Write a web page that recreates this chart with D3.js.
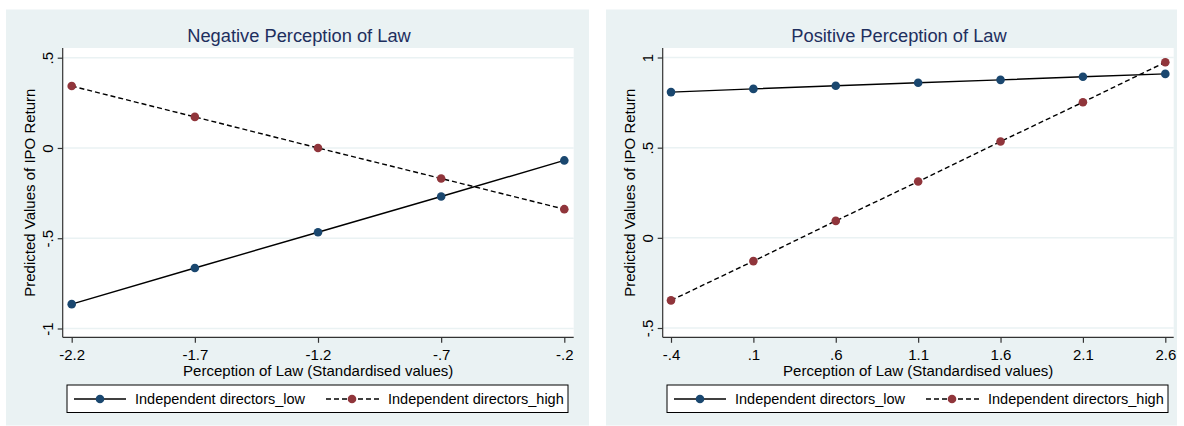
<!DOCTYPE html>
<html><head><meta charset="utf-8">
<script src="https://cdn.jsdelivr.net/npm/d3@7/dist/d3.min.js"></script>
<style>
html,body{margin:0;padding:0;background:#fff;}
svg{display:block;font-family:"Liberation Sans",Arial,sans-serif;}
</style></head>
<body><svg id="c" width="1184" height="426"></svg>
<script>
// ---- data ----
const negTitle = "Negative Perception of Law";
const posTitle = "Positive Perception of Law";
const negX = [-2.2, -1.7, -1.2, -0.7, -0.2];
const negLow = [-0.865, -0.665, -0.467, -0.269, -0.069];
const negHigh = [0.343, 0.172, 0.0, -0.169, -0.339];
const negXTicks = [-2.2, -1.7, -1.2, -0.7, -0.2];
const negXTickLabels = ["-2.2", "-1.7", "-1.2", "-.7", "-.2"];
const negYTicks = [0.5, 0, -0.5, -1];
const negYTickLabels = [".5", "0", "-.5", "-1"];

const posX = [-0.4, 0.1, 0.6, 1.1, 1.6, 2.1, 2.6];
const posLow = [0.808, 0.826, 0.843, 0.860, 0.876, 0.893, 0.909];
const posHigh = [-0.347, -0.129, 0.094, 0.312, 0.534, 0.752, 0.974];
const posXTicks = [-0.4, 0.1, 0.6, 1.1, 1.6, 2.1, 2.6];
const posXTickLabels = ["-.4", ".1", ".6", "1.1", "1.6", "2.1", "2.6"];
const posYTicks = [1, 0.5, 0, -0.5];
const posYTickLabels = ["1", ".5", "0", "-.5"];

const seriesNames = ["Independent directors_low", "Independent directors_high"];
const xTitle = "Perception of Law (Standardised values)";
const yTitle = "Predicted Values of IPO Return";

// ---- style ----
const BG = "#eaf2f3", LOWC = "#1a476f", HIGHC = "#90353b", TITLEC = "#1e2f5e";
const FS = 15, LFS = 14.5;
const svg = d3.select("#c");

function panel(cfg) {
  const g = svg.append("g");
  g.append("rect").attr("x", cfg.bx).attr("y", 9.5).attr("width", cfg.bw).attr("height", 416).attr("fill", BG);
  const pl = cfg.pl, pr = cfg.pl + 511, pt = 48, pb = 337.3;
  g.append("rect").attr("x", pl).attr("y", pt).attr("width", pr - pl).attr("height", pb - pt).attr("fill", "#fff");

  const x = d3.scaleLinear().domain(cfg.xd).range(cfg.xr);
  const y = d3.scaleLinear().domain(cfg.yd).range(cfg.yr);

  // gridlines
  g.selectAll(".grid").data(cfg.yTicks).join("line")
    .attr("x1", pl).attr("x2", pr).attr("y1", d => y(d)).attr("y2", d => y(d))
    .attr("stroke", BG).attr("stroke-width", 1.5);

  // y axis
  const ya = d3.axisLeft(y).tickValues(cfg.yTicks).tickSize(5).tickSizeOuter(0)
    .tickFormat((d, i) => cfg.yLabels[i]);
  const yg = g.append("g").attr("transform", `translate(${pl},0)`).call(ya);
  yg.attr("font-family", null).attr("font-size", null);
  yg.select(".domain").attr("d", `M0,${pt}V${pb}`).attr("stroke", "#333").attr("stroke-width", 1.2);
  yg.selectAll(".tick line").attr("stroke", "#333").attr("stroke-width", 1.2);
  yg.selectAll(".tick text").attr("font-size", FS).attr("fill", "#000")
    .attr("transform", "translate(-10,0) rotate(-90)").attr("x", 0).attr("y", 0).attr("dy", 0)
    .attr("text-anchor", "middle");

  // x axis
  const xa = d3.axisBottom(x).tickValues(cfg.xTicks).tickSize(5.5).tickSizeOuter(0)
    .tickFormat((d, i) => cfg.xLabels[i]);
  const xg = g.append("g").attr("transform", `translate(0,${pb})`).call(xa);
  xg.attr("font-family", null).attr("font-size", null);
  xg.select(".domain").attr("d", `M${pl},0H${pr}`).attr("stroke", "#333").attr("stroke-width", 1.2);
  xg.selectAll(".tick line").attr("stroke", "#333").attr("stroke-width", 1.2);
  xg.selectAll(".tick text").attr("font-size", FS).attr("fill", "#000").attr("y", 23).attr("dy", 0);

  // titles
  g.append("text").attr("x", cfg.tx).attr("y", 42).attr("text-anchor", "middle")
    .attr("font-size", 18.3).attr("fill", TITLEC).text(cfg.title);
  g.append("text").attr("x", (pl + pr) / 2).attr("y", 375.5).attr("text-anchor", "middle")
    .attr("font-size", FS).attr("fill", "#000").text(xTitle);
  g.append("text").attr("transform", `translate(${pl - 27.5},${(pt + pb) / 2}) rotate(-90)`)
    .attr("text-anchor", "middle").attr("font-size", FS).attr("fill", "#000").text(yTitle);

  // lines
  const line = d3.line().x(d => x(d[0])).y(d => y(d[1]));
  const lowPts = cfg.xs.map((v, i) => [v, cfg.low[i]]);
  const highPts = cfg.xs.map((v, i) => [v, cfg.high[i]]);
  g.append("path").attr("d", line(lowPts)).attr("fill", "none").attr("stroke", "#000").attr("stroke-width", 1.4);
  g.append("path").attr("d", line(highPts)).attr("fill", "none").attr("stroke", "#000").attr("stroke-width", 1.4)
    .attr("stroke-dasharray", "5,3");
  g.selectAll(".pl").data(lowPts).join("circle").attr("cx", d => x(d[0])).attr("cy", d => y(d[1]))
    .attr("r", 4.3).attr("fill", LOWC);
  g.selectAll(".ph").data(highPts).join("circle").attr("cx", d => x(d[0])).attr("cy", d => y(d[1]))
    .attr("r", 4.3).attr("fill", HIGHC);

  // legend
  const lx = cfg.bx + 61, ly = 385;
  g.append("rect").attr("x", lx).attr("y", ly).attr("width", 501).attr("height", 27.5)
    .attr("fill", "#fff").attr("stroke", "#000").attr("stroke-width", 1);
  const cy = 399;
  g.append("line").attr("x1", lx + 7).attr("x2", lx + 59).attr("y1", cy).attr("y2", cy)
    .attr("stroke", "#000").attr("stroke-width", 1.4);
  g.append("circle").attr("cx", lx + 33).attr("cy", cy).attr("r", 4.3).attr("fill", LOWC);
  g.append("text").attr("x", lx + 68).attr("y", cy + 5.3).attr("font-size", LFS).text(seriesNames[0]);
  g.append("line").attr("x1", lx + 259).attr("x2", lx + 312).attr("y1", cy).attr("y2", cy)
    .attr("stroke", "#000").attr("stroke-width", 1.4).attr("stroke-dasharray", "5,3");
  g.append("circle").attr("cx", lx + 285).attr("cy", cy).attr("r", 4.3).attr("fill", HIGHC);
  g.append("text").attr("x", lx + 321).attr("y", cy + 5.3).attr("font-size", LFS).text(seriesNames[1]);
}

panel({bx: 6, bw: 583, pl: 62.7, tx: 299, title: negTitle,
  xd: [-2.2, -0.2], xr: [71.7, 564.3], yd: [0.5, -1], yr: [57.7, 328.5],
  xs: negX, low: negLow, high: negHigh,
  xTicks: negXTicks, xLabels: negXTickLabels, yTicks: negYTicks, yLabels: negYTickLabels});
panel({bx: 606, bw: 571, pl: 662.7, tx: 899, title: posTitle,
  xd: [-0.4, 2.6], xr: [671, 1165.3], yd: [1, -0.5], yr: [57.5, 328],
  xs: posX, low: posLow, high: posHigh,
  xTicks: posXTicks, xLabels: posXTickLabels, yTicks: posYTicks, yLabels: posYTickLabels});
</script></body></html>
